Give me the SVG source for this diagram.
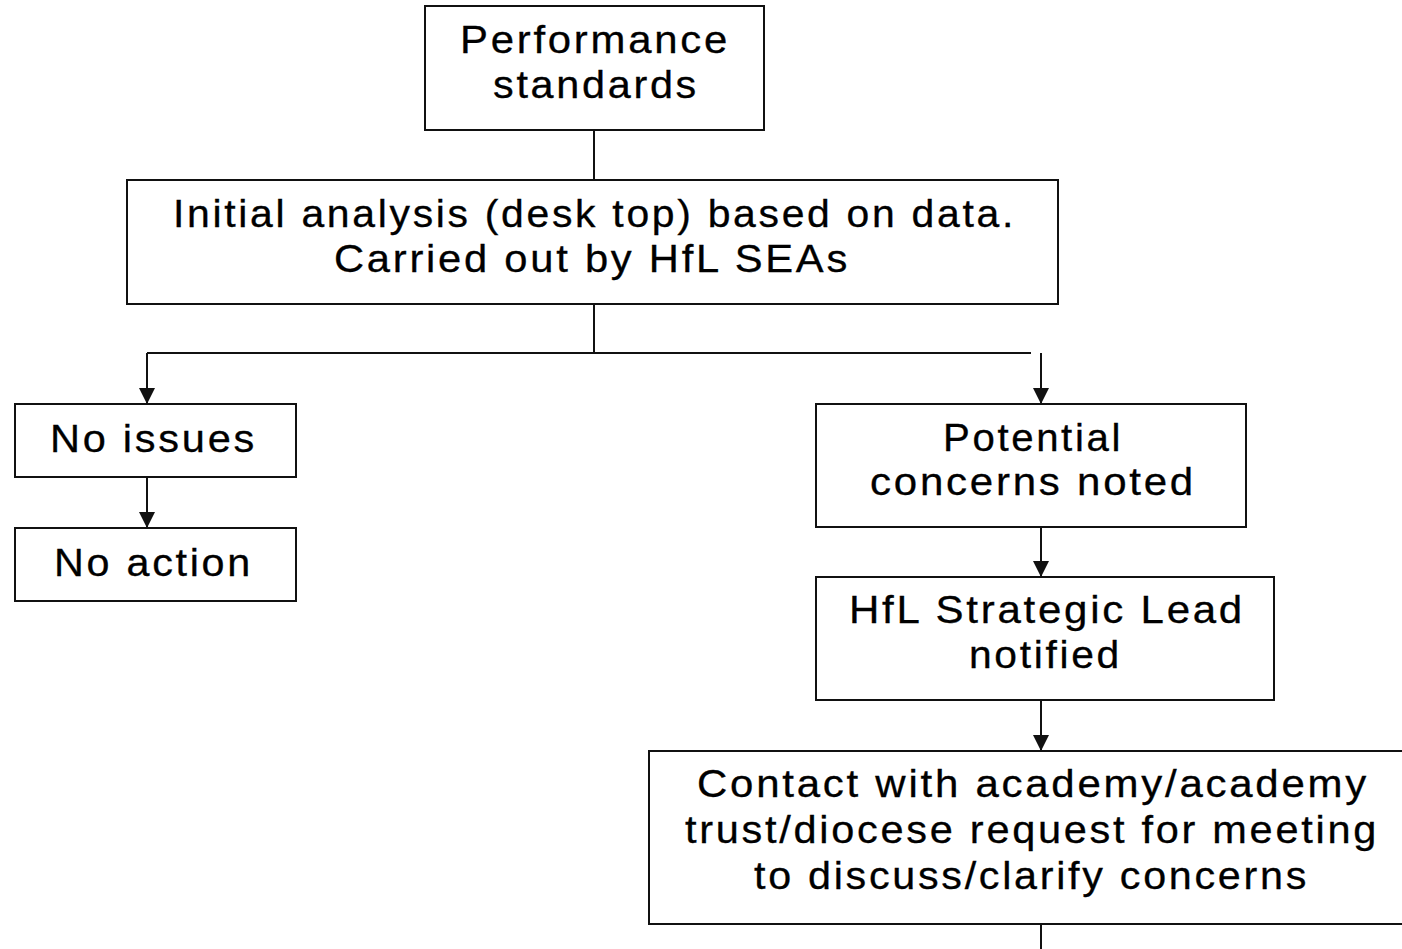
<svg xmlns="http://www.w3.org/2000/svg" width="1402" height="949" viewBox="0 0 1402 949">
<defs>
<style>
.box{fill:#fff;stroke:#111;stroke-width:2}
.t{font-family:"Liberation Sans",Arial,sans-serif;font-size:38px;letter-spacing:2.5px;fill:#000;stroke:#000;stroke-width:0.3;text-anchor:start}
.c{fill:none;stroke:#111;stroke-width:2}
</style>
<marker id="ah" viewBox="0 0 16 16" refX="16" refY="8" markerWidth="16" markerHeight="16" markerUnits="userSpaceOnUse" orient="auto">
<path d="M0,0 L16,8 L0,16 z" fill="#111"/>
</marker>
</defs>
<rect width="1402" height="949" fill="#fff"/>
<g id="connectors">
<path class="c" d="M594,130 V180"/>
<path class="c" d="M594,304 V353"/>
<path class="c" d="M147,353 H1031"/>
<path class="c" d="M147,353 V404" marker-end="url(#ah)"/>
<path class="c" d="M1041,353 V404" marker-end="url(#ah)"/>
<path class="c" d="M147,477 V528" marker-end="url(#ah)"/>
<path class="c" d="M1041,527 V577" marker-end="url(#ah)"/>
<path class="c" d="M1041,700 V751" marker-end="url(#ah)"/>
<path class="c" d="M1041,924 V949"/>
</g>
<g id="performance">
<rect class="box" x="425" y="6" width="339" height="124"/>
<text class="t" x="460" y="53" textLength="270" lengthAdjust="spacingAndGlyphs">Performance</text>
<text class="t" x="493" y="98" textLength="206" lengthAdjust="spacingAndGlyphs">standards</text>
</g>
<g id="initial">
<rect class="box" x="127" y="180" width="931" height="124"/>
<text class="t" x="173" y="227" textLength="843" lengthAdjust="spacingAndGlyphs">Initial analysis (desk top) based on data.</text>
<text class="t" x="334" y="272" textLength="516" lengthAdjust="spacingAndGlyphs">Carried out by HfL SEAs</text>
</g>
<g id="noissues">
<rect class="box" x="15" y="404" width="281" height="73"/>
<text class="t" x="50" y="452" textLength="207" lengthAdjust="spacingAndGlyphs">No issues</text>
</g>
<g id="noaction">
<rect class="box" x="15" y="528" width="281" height="73"/>
<text class="t" x="54" y="576" textLength="199" lengthAdjust="spacingAndGlyphs">No action</text>
</g>
<g id="potential">
<rect class="box" x="816" y="404" width="430" height="123"/>
<text class="t" x="943" y="451" textLength="180" lengthAdjust="spacingAndGlyphs">Potential</text>
<text class="t" x="870" y="495" textLength="326" lengthAdjust="spacingAndGlyphs">concerns noted</text>
</g>
<g id="strategic">
<rect class="box" x="816" y="577" width="458" height="123"/>
<text class="t" x="849" y="623" textLength="396" lengthAdjust="spacingAndGlyphs">HfL Strategic Lead</text>
<text class="t" x="969" y="668" textLength="153" lengthAdjust="spacingAndGlyphs">notified</text>
</g>
<g id="contact">
<rect class="box" x="649" y="751" width="770" height="173"/>
<text class="t" x="697" y="797" textLength="672" lengthAdjust="spacingAndGlyphs">Contact with academy/academy</text>
<text class="t" x="685" y="843" textLength="694" lengthAdjust="spacingAndGlyphs">trust/diocese request for meeting</text>
<text class="t" x="754" y="889" textLength="555" lengthAdjust="spacingAndGlyphs">to discuss/clarify concerns</text>
</g>
</svg>
